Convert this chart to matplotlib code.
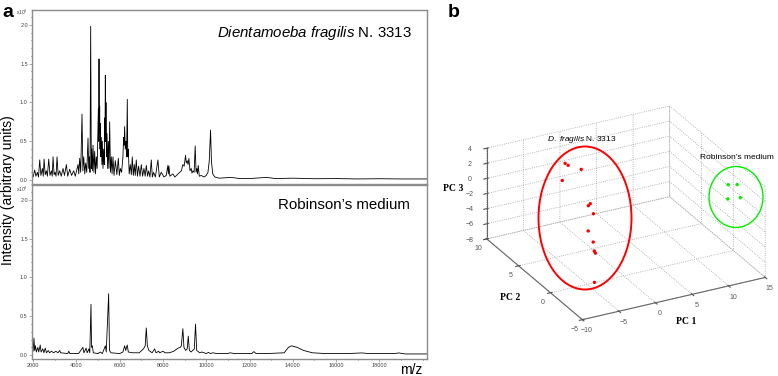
import numpy as np
import matplotlib.pyplot as plt
from matplotlib.patches import Ellipse
from matplotlib.ticker import MultipleLocator, FixedLocator, FormatStrFormatter
from mpl_toolkits.mplot3d import proj3d

plt.rcParams['font.family'] = ['Liberation Sans', 'DejaVu Sans']
plt.rcParams['mathtext.fontset'] = 'custom'
plt.rcParams['mathtext.rm'] = 'Liberation Sans'
plt.rcParams['mathtext.it'] = 'Liberation Sans:italic'
plt.rcParams['grid.color'] = '#a0a0a0'
plt.rcParams['grid.linestyle'] = ':'
plt.rcParams['grid.linewidth'] = 0.6

# --- panel a: spectra (intensity in x10^4), vertices
top_mz = [2000, 2077, 2130, 2200, 2250, 2308, 2360, 2430, 2470, 2508, 2560, 2615, 2660, 2723, 2780,
          2846, 2885, 2923, 2970, 3015, 3060, 3107, 3160, 3230, 3300, 3384, 3450, 3538, 3600, 3692,
          3780, 3876, 3950, 4076, 4110, 4153, 4200, 4261, 4300, 4338, 4390, 4430, 4480, 4538, 4570,
          4600, 4630, 4661, 4690, 4707, 4740, 4769, 4810, 4846, 4885, 4923, 4960, 4990, 5015, 5030,
          5046, 5062, 5077, 5092, 5107, 5130, 5153, 5180, 5200, 5230, 5261, 5290, 5307, 5322, 5338,
          5353, 5368, 5390, 5415, 5445, 5477, 5505, 5538, 5575, 5615, 5650, 5692, 5740, 5800, 5870,
          5938, 5985, 6030, 6090, 6150, 6184, 6205, 6230, 6260, 6292, 6320, 6353, 6375, 6400, 6440,
          6492, 6540, 6584, 6630, 6676, 6720, 6768, 6820, 6876, 6940, 7000, 7060, 7122, 7180, 7230,
          7290, 7338, 7400, 7460, 7510, 7568, 7650, 7768, 7830, 7922, 8050, 8150, 8230, 8250, 8277,
          8320, 8460, 8550, 8700, 8768, 8850, 8922, 8980, 9045, 9080, 9122, 9160, 9200, 9250, 9307,
          9340, 9384, 9440, 9490, 9530, 9568, 9600, 9630, 9680, 9768, 9900, 10000, 10080, 10140, 10200,
          10240, 10300, 10400, 10600, 11150, 11500, 12000, 12800, 13200, 14000, 15000, 16000, 17000,
          18000, 19000, 20200]
top_int = [0.04, 0.13, 0.05, 0.10, 0.04, 0.26, 0.06, 0.15, 0.05, 0.27, 0.07, 0.12, 0.05, 0.27, 0.06,
           0.12, 0.05, 0.30, 0.07, 0.10, 0.05, 0.30, 0.06, 0.12, 0.05, 0.15, 0.06, 0.20, 0.05, 0.14,
           0.06, 0.12, 0.05, 0.20, 0.08, 0.28, 0.10, 0.85, 0.12, 0.30, 0.08, 0.22, 0.10, 0.54, 0.15,
           0.30, 0.10, 1.98, 0.15, 0.40, 0.12, 0.45, 0.10, 0.37, 0.08, 0.30, 0.15, 0.60, 0.92, 0.50,
           1.56, 0.60, 0.95, 0.40, 0.73, 0.30, 0.55, 0.20, 0.50, 0.15, 0.40, 0.20, 0.80, 0.50, 1.35,
           0.50, 1.00, 0.30, 0.60, 0.15, 0.50, 0.15, 0.75, 0.10, 0.30, 0.08, 0.30, 0.06, 0.25, 0.07,
           0.28, 0.06, 0.15, 0.10, 0.30, 0.55, 0.45, 0.69, 0.40, 0.50, 0.30, 1.04, 0.30, 0.40, 0.08,
           0.20, 0.07, 0.30, 0.06, 0.20, 0.06, 0.26, 0.05, 0.18, 0.05, 0.20, 0.05, 0.15, 0.05, 0.19,
           0.05, 0.12, 0.04, 0.26, 0.04, 0.10, 0.04, 0.26, 0.04, 0.10, 0.04, 0.06, 0.19, 0.08, 0.18,
           0.05, 0.08, 0.04, 0.08, 0.10, 0.12, 0.20, 0.18, 0.32, 0.22, 0.25, 0.20, 0.28, 0.12, 0.15,
           0.09, 0.12, 0.10, 0.44, 0.10, 0.15, 0.08, 0.19, 0.05, 0.06, 0.04, 0.06, 0.10, 0.25, 0.645,
           0.25, 0.08, 0.04, 0.025, 0.035, 0.022, 0.02, 0.035, 0.02, 0.025, 0.018, 0.02, 0.015,
           0.018, 0.015, 0.015]

bot_mz = [2000, 2040, 2070, 2110, 2150, 2220, 2260, 2330, 2370, 2450, 2500, 2560, 2620, 2700, 2760,
          2850, 2950, 3050, 3150, 3230, 3270, 3600, 3650, 3700, 4100, 4300, 4350, 4450, 4500, 4580,
          4620, 4676, 4700, 4740, 4780, 5000, 5100, 5200, 5340, 5380, 5491, 5530, 5600, 6000, 6150,
          6230, 6280, 6350, 6400, 6600, 6900, 7100, 7180, 7230, 7280, 7350, 7500, 7615, 7680, 7800,
          7850, 8000, 8100, 8300, 8500, 8600, 8700, 8800, 8850, 8920, 8970, 9050, 9120, 9170, 9220,
          9300, 9450, 9505, 9560, 9700, 9800, 10000, 10100, 10200, 10300, 10500, 11000, 11100, 11300,
          12100, 12200, 12300, 12800, 13600, 13800, 13950, 14050, 14200, 14500, 14900, 15500, 16500,
          17200, 17500, 18700, 18900, 19200, 20200]
bot_int = [0.05, 0.22, 0.06, 0.12, 0.04, 0.10, 0.04, 0.13, 0.04, 0.08, 0.03, 0.09, 0.03, 0.06, 0.03,
           0.05, 0.03, 0.05, 0.03, 0.06, 0.03, 0.02, 0.05, 0.02, 0.02, 0.10, 0.03, 0.09, 0.03, 0.08,
           0.03, 0.655, 0.10, 0.12, 0.03, 0.02, 0.04, 0.02, 0.12, 0.04, 0.79, 0.06, 0.03, 0.02, 0.04,
           0.12, 0.06, 0.13, 0.04, 0.03, 0.03, 0.08, 0.12, 0.35, 0.12, 0.06, 0.03, 0.08, 0.03, 0.05,
           0.03, 0.05, 0.03, 0.03, 0.05, 0.07, 0.09, 0.10, 0.12, 0.34, 0.10, 0.06, 0.08, 0.245, 0.06,
           0.04, 0.08, 0.40, 0.06, 0.03, 0.04, 0.02, 0.035, 0.02, 0.03, 0.02, 0.02, 0.03, 0.02,
           0.02, 0.045, 0.02, 0.02, 0.03, 0.10, 0.12, 0.11, 0.10, 0.06, 0.03, 0.02, 0.02,
           0.028, 0.02, 0.02, 0.028, 0.015, 0.015]
mz_ticks = [2000, 4000, 6000, 8000, 10000, 12000, 14000, 16000, 18000]

# --- panel b: PCA scores
red_pc1 = [-2.55, -2.0, -1.3, -3.6, -1.6, -1.33, -1.6, -2.9, -3.3, -3.84, -3.8, -5.4]
red_pc2 = [6.25, 6.41, 5.16, 5.5, 3.7, 3.71, 2.91, 2.23, 0.99, 0.19, 0.08, -1.62]
red_pc3 = [3.0, 2.5, 2.7, 1.5, -1.0, -0.8, -1.5, -3.0, -3.5, -4.0, -4.2, -6.5]
green_pc1 = [13.2, 13.7, 12.8, 14.0]
green_pc2 = [-1.25, -2.09, -1.65, -2.23]
green_pc3 = [2.0, 2.5, 0.5, 0.8]

pc1_ticks = [-10, -5, 0, 5, 10, 15]
pc2_ticks = [-5, 0, 5, 10]
pc3_ticks = [-8, -6, -4, -2, 0, 2, 4]

W, H = 778, 376
fig = plt.figure(figsize=(W / 100, H / 100), dpi=100)


def fx(x):
    return x / W


def fy(y):
    # image pixel row -> figure fraction
    return 1 - y / H


def style_spectrum(ax, show_x):
    ax.set_xlim(1950, 20200)
    ax.set_ylim(-0.05, 2.19)
    for s in ax.spines.values():
        s.set_color('#8c8c8c')
        s.set_linewidth(1.0)
    ax.yaxis.set_major_locator(MultipleLocator(0.5))
    ax.yaxis.set_minor_locator(MultipleLocator(0.1))
    ax.yaxis.set_major_formatter(FormatStrFormatter('%.1f'))
    ax.xaxis.set_major_locator(FixedLocator(mz_ticks))
    ax.xaxis.set_minor_locator(MultipleLocator(1000))
    ax.tick_params(labelsize=4, colors='#8c8c8c', labelcolor='#444444', length=2, width=0.5, pad=1)
    ax.tick_params(which='minor', length=1, width=0.4)
    if not show_x:
        ax.tick_params(axis='x', which='both', labelbottom=False, length=0)


ax_top = fig.add_axes([fx(32), fy(184), 395 / W, 174 / H])
ax_top.plot(top_mz, top_int, color='black', lw=0.6)
style_spectrum(ax_top, False)

ax_bot = fig.add_axes([fx(32), fy(359), 395 / W, 174 / H])
ax_bot.plot(bot_mz, bot_int, color='black', lw=0.6)
style_spectrum(ax_bot, True)

for yy in (12, 189):
    fig.text(fx(22), fy(yy), r'x10$^4$', fontsize=3.5, color='#444444', ha='center', va='center')

fig.text(fx(412), fy(33), r'$\mathit{Dientamoeba\ fragilis}$ N. 3313', fontsize=10.8,
         ha='right', va='center')
fig.text(fx(410), fy(205), 'Robinson\u2019s medium', fontsize=10.8, ha='right', va='center')
fig.text(fx(8), fy(190), 'Intensity (arbitrary units)', rotation=90, fontsize=10,
         ha='center', va='center')
fig.text(fx(411), fy(370), 'm/z', fontsize=10, ha='center', va='center')
fig.text(fx(2), fy(17), 'a', fontsize=14, fontweight='bold', ha='left', va='baseline')
fig.text(fx(448), fy(17), 'b', fontsize=14, fontweight='bold', ha='left', va='baseline')

# --- 3D PCA plot
ax3 = fig.add_axes([0.57, 0.1, 0.4, 0.8], projection='3d')
ax3.set_proj_type('ortho')
ax3.view_init(elev=26.2, azim=-117.6)
ax3.set_box_aspect((1, 1, 0.49))
ax3.scatter(red_pc1, red_pc2, red_pc3, c='#ff0000', s=6, depthshade=False, edgecolors='none')
ax3.scatter(green_pc1, green_pc2, green_pc3, c='#00ee00', s=6, depthshade=False, edgecolors='none')
ax3.set_xlim(-10, 15)
ax3.set_ylim(-5, 10)
ax3.set_zlim(-8, 4)
ax3.set_xticks(pc1_ticks)
ax3.set_yticks(pc2_ticks)
ax3.set_zticks(pc3_ticks)
lab_kw = dict(fontfamily='Liberation Serif', fontweight='bold', fontsize=7)
ax3.set_xlabel('PC 1', labelpad=-6, **lab_kw)
ax3.set_ylabel('PC 2', labelpad=-6, **lab_kw)
ax3.set_zlabel('PC 3', labelpad=-7.5, **lab_kw)
for a in (ax3.xaxis, ax3.yaxis, ax3.zaxis):
    a.set_pane_color((1, 1, 1, 0))
    a.pane.set_edgecolor('#b0b0b0')
    a.pane.set_linestyle(':')
    a.line.set_color('#666666')
    a.line.set_linewidth(0.8)
ax3.tick_params(labelsize=5, colors='#555555', pad=-3)
ax3.tick_params(axis='z', pad=-1)

# fit the 3D box onto the box seen in the picture (pixel corners of the frame)
fig.canvas.draw()
corners = [(-10, -5, -8), (-10, 10, -8), (15, -5, -8), (15, 10, 4)]
targets = np.array([(583, H - 320), (488, H - 240), (765, H - 278), (668, H - 104)], float)
M = ax3.get_proj()
pts = []
for c in corners:
    x, y, _ = proj3d.proj_transform(c[0], c[1], c[2], M)
    pts.append(ax3.transData.transform((x, y)))
pts = np.array(pts)
bb = ax3.bbox
center = np.array([(bb.x0 + bb.x1) / 2, (bb.y0 + bb.y1) / 2])
q = pts - center
qm, tm = q.mean(0), targets.mean(0)
s = ((q - qm) * (targets - tm)).sum() / ((q - qm) ** 2).sum()
nc = tm - s * qm
side = s * bb.width
ax3.set_position([(nc[0] - side / 2) / W, (nc[1] - side / 2) / H, side / W, side / H])

fig.add_artist(Ellipse((fx(585), fy(218)), 93 / W, 143 / H, transform=fig.transFigure,
                       fill=False, ec='#ff0000', lw=1.4))
fig.add_artist(Ellipse((fx(736), fy(197)), 54 / W, 61 / H, transform=fig.transFigure,
                       fill=False, ec='#00ee00', lw=1.0))
fig.text(fx(582), fy(139), r'$\mathit{D.\ fragilis}$ N. 3313', fontsize=6, ha='center', va='center')
fig.text(fx(737), fy(157), 'Robinson\u2019s medium', fontsize=6, ha='center', va='center')

fig.savefig('out.png', dpi=100)
